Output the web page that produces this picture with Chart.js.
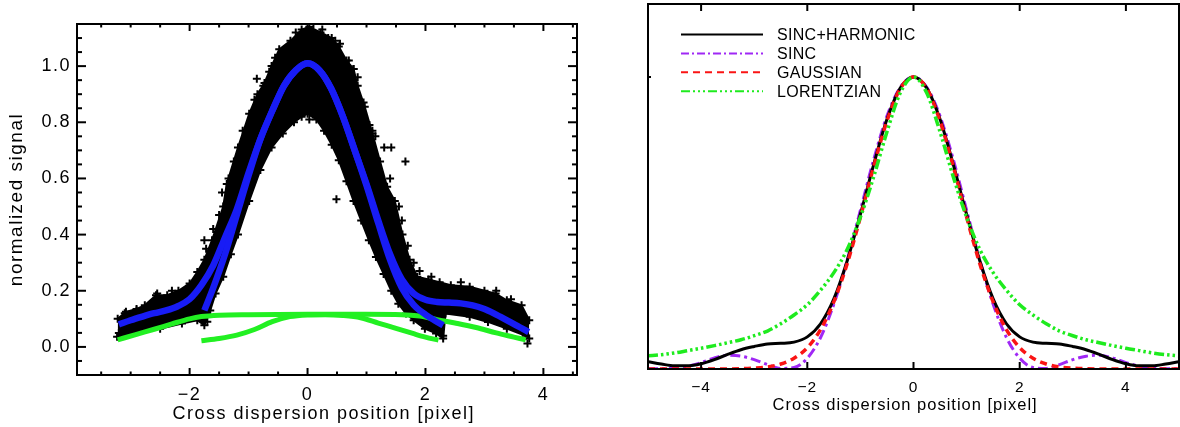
<!DOCTYPE html>
<html><head><meta charset="utf-8">
<script src="https://cdn.jsdelivr.net/npm/chart.js@4.4.1/dist/chart.umd.min.js"></script>
<style>
html,body{margin:0;padding:0;background:#fff;}
#wrap{position:relative;width:1180px;height:427px;overflow:hidden;background:#fff;}
canvas{position:absolute;top:0;}
#c1{left:0}
#c2{left:590px}
</style></head><body>
<div id="wrap"><canvas id="c1" width="590" height="427"></canvas><canvas id="c2" width="590" height="427"></canvas></div>
<script>
// ---------- LEFT PANEL DATA ----------
const leftXTicks = [-2, 0, 2, 4];
const leftYTicks = [0.0, 0.2, 0.4, 0.6, 0.8, 1.0];
// outer (top) edge of the measured point cloud, left to right
const cloudUpper = [[-3.22,0.1],[-3.08,0.125],[-2.9,0.135],[-2.76,0.148],[-2.57,0.184],[-2.38,0.184],[-2.19,0.2],[-2.0,0.226],[-1.87,0.267],[-1.75,0.31],[-1.62,0.38],[-1.43,0.5],[-1.37,0.58],[-1.18,0.71],[-0.99,0.83],[-0.85,0.9],[-0.73,0.94],[-0.61,1.0],[-0.48,1.06],[-0.29,1.09],[-0.1,1.13],[0.03,1.14],[0.22,1.12],[0.41,1.1],[0.53,1.07],[0.66,1.02],[0.78,0.99],[0.85,0.93],[0.97,0.855],[1.1,0.76],[1.23,0.66],[1.35,0.57],[1.48,0.52],[1.61,0.4],[1.73,0.31],[1.86,0.25],[2.05,0.24],[2.24,0.23],[2.43,0.22],[2.75,0.214],[3.0,0.2],[3.19,0.19],[3.38,0.166],[3.63,0.148],[3.76,0.095]];
// inner (bottom) edge of the point cloud, left to right
const cloudLower = [[-3.23,0.036],[-2.89,0.053],[-2.5,0.065],[-2.13,0.083],[-1.87,0.095],[-1.75,0.077],[-1.65,0.13],[-1.56,0.19],[-1.43,0.25],[-1.3,0.33],[-1.18,0.4],[-0.99,0.52],[-0.8,0.63],[-0.61,0.71],[-0.42,0.76],[-0.23,0.8],[-0.1,0.82],[0.0,0.83],[0.15,0.81],[0.28,0.77],[0.41,0.72],[0.53,0.665],[0.66,0.59],[0.78,0.52],[0.91,0.45],[1.04,0.38],[1.16,0.32],[1.29,0.26],[1.42,0.2],[1.54,0.154],[1.67,0.119],[1.8,0.095],[1.99,0.065],[2.18,0.048],[2.3,0.03],[2.34,0.119],[2.75,0.107],[3.06,0.089],[3.38,0.065],[3.7,0.04],[3.76,0.03]];
// isolated points outside / at the border of the cloud
const cloudStray = [[-0.86,0.955],[0.03,0.81],[0.49,0.526],[1.66,0.66],[1.42,0.71],[1.3,0.71],[1.1,0.77],[1.05,0.79],[0.78,0.99],[0.85,0.96],[0.47,1.09],[-1.75,0.38],[-1.72,0.35],[-1.34,0.6],[-1.45,0.55],[-3.1,0.12],[3.6,0.13],[3.73,0.012],[-1.7,0.09],[-2.55,0.19],[-2.3,0.2],[0.55,1.08],[-0.2,1.12],[0.1,1.15],[-0.55,1.03],[-0.65,0.98],[1.2,0.62],[1.55,0.5],[1.6,0.45],[1.9,0.27],[2.1,0.25],[2.6,0.23],[3.2,0.2],[3.45,0.17],[-2.9,0.13],[-3.2,0.05],[2.3,0.04],[2.28,0.09],[-1.6,0.42],[-1.5,0.47],[-1.25,0.66],[-1.1,0.77],[-0.9,0.88],[-0.75,0.93],[0.25,1.13],[0.35,1.1],[0.7,1.02],[0.95,0.87],[1.15,0.75],[1.4,0.6],[1.7,0.36],[1.8,0.3]];
const fitWide = [[-3.2,0.08],[-3.0,0.095],[-2.8,0.108],[-2.6,0.12],[-2.4,0.13],[-2.2,0.145],[-2.0,0.17],[-1.8,0.22],[-1.6,0.29],[-1.4,0.39],[-1.2,0.49],[-1.0,0.62],[-0.8,0.74],[-0.6,0.84],[-0.4,0.93],[-0.2,0.985],[0,1.01],[0.2,0.985],[0.4,0.92],[0.6,0.82],[0.8,0.7],[1.0,0.58],[1.2,0.45],[1.4,0.33],[1.6,0.24],[1.8,0.19],[2.0,0.168],[2.2,0.16],[2.4,0.158],[2.6,0.155],[2.8,0.148],[3.0,0.135],[3.2,0.115],[3.4,0.093],[3.6,0.07],[3.75,0.053]];
const fitNarrow = [[-1.75,0.13],[-1.6,0.21],[-1.4,0.33],[-1.2,0.47],[-1.0,0.61],[-0.8,0.74],[-0.6,0.84],[-0.4,0.93],[-0.2,0.985],[0,1.01],[0.2,0.985],[0.4,0.92],[0.6,0.82],[0.8,0.7],[1.0,0.575],[1.2,0.44],[1.4,0.31],[1.6,0.21],[1.8,0.15],[2.0,0.115],[2.15,0.095],[2.3,0.077]];
const baseWide = [[-3.22,0.025],[-2.9,0.045],[-2.6,0.063],[-2.3,0.082],[-2.0,0.1],[-1.8,0.108],[-1.5,0.113],[-1.0,0.115],[0,0.116],[1.0,0.116],[1.6,0.115],[1.9,0.11],[2.2,0.097],[2.5,0.085],[2.86,0.069],[3.2,0.05],[3.5,0.035],[3.7,0.025]];
const baseNarrow = [[-1.8,0.022],[-1.5,0.03],[-1.2,0.042],[-0.9,0.062],[-0.6,0.09],[-0.3,0.108],[0,0.114],[0.3,0.115],[0.6,0.112],[0.9,0.104],[1.2,0.085],[1.5,0.066],[1.8,0.047],[2.0,0.035],[2.22,0.024]];

// ---------- RIGHT PANEL DATA ----------
const rightXTicks = [-4, -2, 0, 2, 4];
const rightYTicks = [1];
const profileX = [-5,-4.75,-4.5,-4.25,-4,-3.75,-3.5,-3.25,-3,-2.75,-2.5,-2.25,-2,-1.75,-1.5,-1.25,-1,-0.75,-0.5,-0.25,0,0.25,0.5,0.75,1,1.25,1.5,1.75,2,2.25,2.5,2.75,3,3.25,3.5,3.75,4,4.25,4.5,4.75,5];
const sincHarmonic = [0.025,0.017,0.011,0.011,0.018,0.032,0.05,0.066,0.077,0.086,0.088,0.092,0.11,0.155,0.24,0.37,0.53,0.70,0.855,0.962,1,0.962,0.855,0.70,0.53,0.37,0.24,0.155,0.11,0.092,0.088,0.086,0.077,0.066,0.05,0.032,0.018,0.011,0.011,0.017,0.025];
const sincOnly = [0.001,0.001,0.003,0.01,0.022,0.038,0.047,0.044,0.032,0.015,0.002,0.005,0.037,0.108,0.222,0.372,0.544,0.717,0.866,0.965,1,0.965,0.866,0.717,0.544,0.372,0.222,0.108,0.037,0.005,0.002,0.015,0.032,0.044,0.047,0.038,0.022,0.01,0.003,0.001,0.001];
const gaussian = [0,0,0,0,0,0,0,0.001,0.003,0.007,0.017,0.037,0.073,0.135,0.23,0.36,0.52,0.693,0.849,0.96,1,0.96,0.849,0.693,0.52,0.36,0.23,0.135,0.073,0.037,0.017,0.007,0.003,0.001,0,0,0,0,0,0,0];
const lorentzian = [0.045,0.049,0.055,0.063,0.071,0.08,0.09,0.1,0.114,0.13,0.155,0.185,0.22,0.27,0.33,0.409,0.52,0.658,0.812,0.945,1,0.945,0.812,0.658,0.52,0.409,0.33,0.27,0.22,0.185,0.155,0.13,0.114,0.1,0.09,0.08,0.071,0.063,0.055,0.049,0.045];
const seriesNames = ['SINC+HARMONIC', 'SINC', 'GAUSSIAN', 'LORENTZIAN'];

// ---------- helpers / styles ----------
const FONT = "'Liberation Sans', Arial, Helvetica, sans-serif";
const toXY = arr => arr.map(p => ({x: p[0], y: p[1]}));
const fmtMinus = v => (v < 0 ? '\u2212' + Math.abs(v) : String(v));
const stepList = (a, b, s, skip) => { const out = []; for (let v = a; v <= b + 1e-9; v += s) { const r = Math.round(v * 1000) / 1000; if (!skip.some(k => Math.abs(k - r) < 1e-6)) out.push(r); } return out; };
const BLUE = 'rgb(24,28,245)';
const GREEN = 'rgb(34,240,34)';

const frameTicks = {
  id: 'frameTicks',
  afterDatasetsDraw(chart, args, o) {
    const {ctx, chartArea: a} = chart;
    const xs = chart.scales.x, ys = chart.scales.y;
    ctx.save();
    ctx.strokeStyle = '#000'; ctx.lineWidth = o.lw; ctx.lineCap = 'butt'; ctx.setLineDash([]);
    const seg = (x1, y1, x2, y2) => { ctx.beginPath(); ctx.moveTo(x1, y1); ctx.lineTo(x2, y2); ctx.stroke(); };
    const tickX = (vals, len) => vals.forEach(v => { const p = xs.getPixelForValue(v); seg(p, a.bottom, p, a.bottom - len); if (o.top) seg(p, a.top, p, a.top + len); });
    const tickY = (vals, len) => vals.forEach(v => { const p = ys.getPixelForValue(v); seg(a.left, p, a.left + len, p); if (o.right) seg(a.right, p, a.right - len, p); });
    tickX(o.xMajor, o.xMajLen); tickX(o.xMinor || [], o.xMinLen);
    tickY(o.yMajor, o.yMajLen); tickY(o.yMinor || [], o.yMinLen);
    ctx.strokeRect(a.left, a.top, a.right - a.left, a.bottom - a.top);
    ctx.restore();
  }
};
const spacing = {
  id: 'spacing',
  beforeDraw(chart, args, o) { chart.ctx.letterSpacing = o.ls || '0px'; },
  afterDraw(chart) { chart.ctx.letterSpacing = '0px'; }
};
const lineLegend = {
  id: 'lineLegend',
  afterDraw(chart, args, o) {
    if (!o || !o.show) return;
    const ctx = chart.ctx;
    ctx.save();
    ctx.font = o.size + 'px ' + FONT; ctx.fillStyle = '#000'; ctx.textBaseline = 'middle'; ctx.textAlign = 'left';
    ctx.letterSpacing = o.ls;
    chart.data.datasets.forEach((ds, i) => {
      const y = o.y0 + i * o.dy;
      ctx.strokeStyle = ds.borderColor; ctx.lineWidth = o.lw; ctx.setLineDash(ds.legendDash || []);
      ctx.beginPath(); ctx.moveTo(o.x0, y); ctx.lineTo(o.x1, y); ctx.stroke();
      ctx.setLineDash([]);
      ctx.fillText(ds.label, o.tx, y + 1);
    });
    ctx.restore();
  }
};

// ---------- LEFT CHART ----------
const crossPts = {pointStyle: 'cross', pointRadius: 4, pointBorderColor: '#000', pointBorderWidth: 2};
new Chart(document.getElementById('c1'), {
  type: 'scatter',
  plugins: [spacing, frameTicks],
  data: { datasets: [
    {label: 'fit narrow', data: toXY(fitNarrow), showLine: true, borderColor: BLUE, borderWidth: 6.5, pointRadius: 0, cubicInterpolationMode: 'monotone', order: 1},
    {label: 'fit wide', data: toXY(fitWide), showLine: true, borderColor: BLUE, borderWidth: 6.5, pointRadius: 0, cubicInterpolationMode: 'monotone', order: 1},
    {label: 'harmonic wide', data: toXY(baseWide), showLine: true, borderColor: GREEN, borderWidth: 5, pointRadius: 0, cubicInterpolationMode: 'monotone', order: 2},
    {label: 'harmonic narrow', data: toXY(baseNarrow), showLine: true, borderColor: GREEN, borderWidth: 5, pointRadius: 0, cubicInterpolationMode: 'monotone', order: 2},
    Object.assign({label: 'stray', data: toXY(cloudStray), showLine: false, borderColor: '#000', order: 3}, crossPts),
    Object.assign({label: 'cloud top', data: toXY(cloudUpper), showLine: true, fill: '+1', backgroundColor: '#000', borderColor: '#000', borderWidth: 2, tension: 0, order: 4}, crossPts),
    Object.assign({label: 'cloud bottom', data: toXY(cloudLower), showLine: true, fill: false, borderColor: '#000', borderWidth: 2, tension: 0, order: 4}, crossPts)
  ]},
  options: {
    responsive: false, animation: false, devicePixelRatio: 1,
    layout: {padding: {left: 0, right: 13, top: 24, bottom: 0}},
    plugins: {
      legend: {display: false}, tooltip: {enabled: false},
      filler: {propagate: false},
      spacing: {ls: '1.5px'},
      frameTicks: {lw: 2, top: true, right: true, xMajor: leftXTicks, xMinor: stepList(-3.5, 4.5, 0.5, leftXTicks), xMajLen: 7, xMinLen: 3.5,
                   yMajor: leftYTicks, yMinor: stepList(-0.05, 1.15, 0.05, leftYTicks), yMajLen: 9, yMinLen: 5}
    },
    scales: {
      x: {type: 'linear', min: -3.91, max: 4.57,
          grid: {display: false, drawTicks: false}, border: {display: false},
          afterFit: s => { s.height = 52; },
          afterBuildTicks: s => { s.ticks = leftXTicks.map(v => ({value: v})); },
          ticks: {color: '#000', font: {family: FONT, size: 18}, padding: 9, maxRotation: 0, autoSkip: false, callback: v => fmtMinus(v)},
          title: {display: true, text: 'Cross dispersion position [pixel]\u00a0', color: '#000', font: {family: FONT, size: 18}, padding: {top: 0, bottom: 2}}},
      y: {type: 'linear', min: -0.1, max: 1.15,
          grid: {display: false, drawTicks: false}, border: {display: false},
          afterFit: s => { s.width = 77; },
          afterBuildTicks: s => { s.ticks = leftYTicks.map(v => ({value: v})); },
          ticks: {color: '#000', font: {family: FONT, size: 18}, padding: 6, autoSkip: false, callback: v => v.toFixed(1)},
          title: {display: true, text: 'normalized signal', color: '#000', font: {family: FONT, size: 19}, padding: {top: 5, bottom: 0}}}
    }
  }
});

// ---------- RIGHT CHART ----------
const seriesValues = [sincHarmonic, sincOnly, gaussian, lorentzian];
const seriesColors = ['#000000', 'rgb(160,40,245)', 'rgb(250,20,20)', 'rgb(30,235,30)'];
const seriesWidths = [3, 3, 3.5, 3.5];
const seriesDash = [[], [10, 4, 3, 4], [7, 5], [10, 3, 2.5, 3, 2.5, 3, 2.5, 3]];
const legendDash = [[], [8, 3, 2, 3], [7, 5], [9, 3, 2, 3, 2, 3, 2, 3]];
const drawOrder = [2, 3, 1, 0];
new Chart(document.getElementById('c2'), {
  type: 'scatter',
  plugins: [spacing, frameTicks, lineLegend],
  data: { datasets: seriesNames.map((name, i) => ({
    label: name,
    data: profileX.map((x, j) => ({x: x, y: seriesValues[i][j]})),
    showLine: true, pointRadius: 0, borderColor: seriesColors[i], borderWidth: seriesWidths[i],
    borderDash: seriesDash[i], legendDash: legendDash[i], cubicInterpolationMode: 'monotone', order: drawOrder[i]
  }))},
  options: {
    responsive: false, animation: false, devicePixelRatio: 1,
    layout: {padding: {left: 58, right: 1, top: 4, bottom: 0}},
    plugins: {
      legend: {display: false}, tooltip: {enabled: false},
      spacing: {ls: '1px'},
      frameTicks: {lw: 2, top: true, right: false, xMajor: rightXTicks, xMajLen: 7, yMajor: rightYTicks, yMajLen: 3},
      lineLegend: {show: true, x0: 91, x1: 173, tx: 187, y0: 34.5, dy: 18.9, lw: 2, size: 16, ls: '0.3px'}
    },
    scales: {
      x: {type: 'linear', min: -5, max: 5,
          grid: {display: false, drawTicks: false}, border: {display: false},
          afterFit: s => { s.height = 58; },
          afterBuildTicks: s => { s.ticks = rightXTicks.map(v => ({value: v})); },
          ticks: {color: '#000', font: {family: FONT, size: 15.5}, padding: 9, maxRotation: 0, autoSkip: false, callback: v => fmtMinus(v)},
          title: {display: true, text: 'Cross dispersion position [pixel]\u00a0\u00a0\u00a0', color: '#000', font: {family: FONT, size: 16.5}, padding: {top: 0, bottom: 12}}},
      y: {type: 'linear', min: 0, max: 1.25, display: false,
          afterBuildTicks: s => { s.ticks = rightYTicks.map(v => ({value: v})); }}
    }
  }
});
</script>
</body></html>
